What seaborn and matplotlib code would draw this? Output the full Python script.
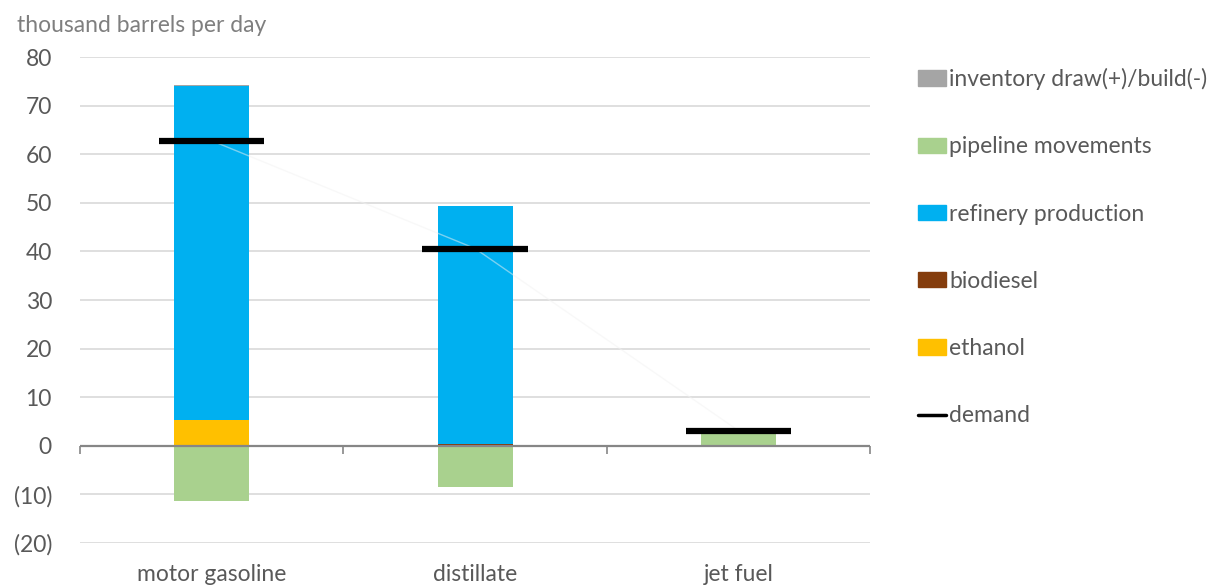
import matplotlib.pyplot as plt
import matplotlib.patches as mpatches
import matplotlib.lines as mlines
import numpy as np
import pandas as pd
import seaborn as sns

# data (thousand barrels per day)
fuels = ["motor gasoline", "distillate", "jet fuel"]
ethanol = [5.4, 0.0, 0.0]
biodiesel = [0.0, 0.4, 0.0]
refinery = [68.7, 49.0, 0.0]
inventory = [0.2, 0.0, 0.0]
pipeline = [-11.3, -8.4, 2.7]
demand = [62.8, 40.6, 3.1]

yticks = [-20, -10, 0, 10, 20, 30, 40, 50, 60, 70, 80]
ytick_labels = ["(20)", "(10)", "0", "10", "20", "30", "40", "50", "60", "70", "80"]

colors = {
    "inventory draw(+)/build(-)": "#a5a5a5",
    "pipeline movements": "#a9d18e",
    "refinery production": "#00b0f0",
    "biodiesel": "#843c0c",
    "ethanol": "#ffc000",
}
TEXT = "#595959"
FS = 16.5


def main():
    sns.set_style("white")
    plt.rcParams["font.family"] = ["Lato", "DejaVu Sans"]

    fig = plt.figure(figsize=(12.26, 5.88), dpi=100)
    ax = fig.add_axes([0.065, 0.0765, 0.645, 0.8265])

    # positive stack: ethanol, biodiesel, refinery, pipeline(+), inventory
    pos_pipe = np.clip(pipeline, 0, None)
    neg_pipe = np.clip(pipeline, None, 0)
    layers = [
        ("ethanol", np.array(ethanol)),
        ("biodiesel", np.array(biodiesel)),
        ("refinery production", np.array(refinery)),
        ("pipeline movements", pos_pipe),
        ("inventory draw(+)/build(-)", np.array(inventory)),
    ]
    cum = np.cumsum([v for _, v in layers], axis=0)
    # draw tallest first so lower layers sit on top
    for i in range(len(layers) - 1, -1, -1):
        name = layers[i][0]
        df = pd.DataFrame({"fuel": fuels, "value": cum[i]})
        sns.barplot(data=df, x="fuel", y="value", order=fuels,
                    color=colors[name], width=0.285, saturation=1,
                    linewidth=0, ax=ax, zorder=3)

    df_neg = pd.DataFrame({"fuel": fuels, "value": neg_pipe})
    sns.barplot(data=df_neg, x="fuel", y="value", order=fuels,
                color=colors["pipeline movements"], width=0.285,
                saturation=1, linewidth=0, ax=ax, zorder=3)

    # faint connector of demand points
    xpos = np.arange(len(fuels))
    ax.plot(xpos, demand, color="#f2f2f2", lw=1, alpha=0.5, zorder=4)

    # demand markers
    ax.hlines(demand, xpos - 0.2, xpos + 0.2, color="black", lw=4.5, zorder=5)

    ax.set_xlim(-0.5, 2.5)
    ax.set_ylim(-20, 80)
    ax.set_yticks(yticks)
    ax.set_yticklabels(ytick_labels)
    ax.yaxis.grid(True, color="#d9d9d9", lw=1.2, zorder=0)
    ax.set_axisbelow(True)
    for s in ax.spines.values():
        s.set_visible(False)

    # category axis at zero
    ax.axhline(0, color="#868686", lw=1.6, zorder=4)
    ax.vlines(np.arange(-0.5, 3.0, 1.0), -1.7, 0, color="#868686", lw=1.2,
              zorder=4, clip_on=False)

    ax.tick_params(axis="both", length=0, labelsize=FS, colors=TEXT)
    ax.tick_params(axis="x", pad=15)
    ax.tick_params(axis="y", pad=20)
    ax.set_xlabel("")
    ax.set_ylabel("")

    fig.text(0.014, 0.957, "thousand barrels per day", fontsize=FS,
             color="#7f7f7f", va="center", ha="left")

    handles = [mpatches.Patch(color=c, label=n) for n, c in colors.items()]
    handles.append(mlines.Line2D([], [], color="black", lw=2.5, label="demand"))
    leg = fig.legend(handles=handles, loc="upper left",
                     bbox_to_anchor=(0.7395, 0.904), frameon=False,
                     fontsize=FS, labelspacing=2.02, handlelength=1.2,
                     handleheight=0.65, handletextpad=0.15, borderpad=0)
    for t in leg.get_texts():
        t.set_color(TEXT)

    fig.savefig("out.png", dpi=100)


if __name__ == "__main__":
    main()
